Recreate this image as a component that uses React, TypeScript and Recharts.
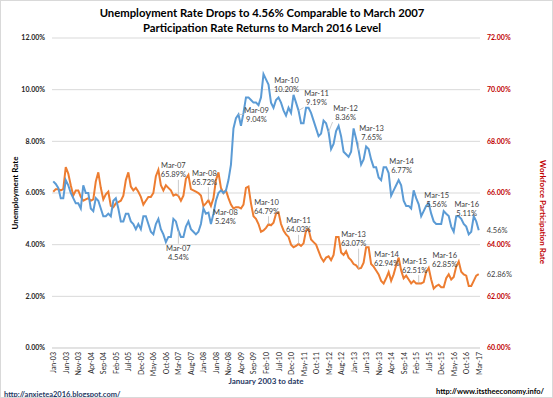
import React from "react";
import { LineChart, Line, XAxis, YAxis, CartesianGrid } from "recharts";

const MONTHS = ["Jan", "Feb", "Mar", "Apr", "May", "Jun", "Jul", "Aug", "Sep", "Oct", "Nov", "Dec"];
const YEARS = ["03", "04", "05", "06", "07", "08", "09", "10", "11", "12", "13", "14", "15", "16", "17"];
const months = YEARS.flatMap((y) => MONTHS.map((m) => `${m}-${y}`)).slice(0, 171);

// unemployment rate, not seasonally adjusted (%)
const unemployment = [
  6.45, 6.35, 6.2, 5.8, 5.8, 6.5, 6.3, 6.0, 5.8, 5.6, 5.6, 5.4,
  6.3, 6.0, 6.0, 5.4, 5.3, 5.8, 5.7, 5.4, 5.1, 5.1, 5.2, 5.1,
  5.7, 5.8, 5.4, 4.9, 4.9, 5.2, 5.2, 4.9, 4.8, 4.6, 4.8, 4.6,
  5.1, 5.1, 4.8, 4.5, 4.4, 4.8, 5.0, 4.6, 4.4, 4.1, 4.3, 4.3,
  5.0, 4.9, 4.54, 4.3, 4.3, 4.7, 4.9, 4.6, 4.5, 4.4, 4.5, 4.8,
  5.4, 5.2, 5.24, 4.8, 5.2, 5.7, 6.0, 6.1, 6.0, 6.1, 6.5, 7.1,
  8.5, 8.9, 9.04, 8.6, 9.1, 9.7, 9.7, 9.6, 9.5, 9.5, 9.4, 9.7,
  10.6, 10.4, 10.2, 9.5, 9.3, 9.6, 9.7, 9.5, 9.2, 9.0, 9.3, 9.1,
  9.8, 9.5, 9.19, 8.7, 8.7, 9.3, 9.3, 9.1, 8.8, 8.5, 8.2, 8.3,
  8.8, 8.7, 8.36, 7.7, 7.9, 8.4, 8.6, 8.2, 7.6, 7.5, 7.4, 7.6,
  8.5, 8.1, 7.65, 7.1, 7.3, 7.8, 7.7, 7.3, 7.0, 7.0, 6.6, 6.5,
  7.0, 7.0, 6.77, 5.9, 6.1, 6.3, 6.5, 6.3, 5.7, 5.5, 5.5, 5.4,
  6.1, 5.8, 5.56, 5.1, 5.3, 5.5, 5.6, 5.2, 4.9, 4.8, 4.8, 4.8,
  5.3, 5.2, 5.11, 4.7, 4.5, 5.1, 5.1, 5.0, 4.8, 4.7, 4.4, 4.5,
  5.1, 4.9, 4.56,
];

// labour force participation rate (%)
const participation = [
  66.05, 66.15, 66.15, 66.1, 66.15, 67.0, 66.75, 66.3, 65.9, 66.1, 66.1, 65.85,
  65.7, 65.75, 65.8, 65.7, 65.75, 66.45, 66.8, 66.2, 65.75, 65.95, 66.05, 65.5,
  65.45, 65.6, 65.65, 65.7, 65.9, 66.5, 66.8, 66.25, 66.1, 66.2, 66.05, 65.85,
  65.55, 65.7, 65.85, 65.85, 66.0, 66.65, 66.9, 66.3, 66.1, 66.3, 66.2, 66.1,
  65.9, 65.95, 65.89, 65.7, 65.9, 66.55, 66.7, 66.15, 66.1, 66.05, 66.0, 65.9,
  65.5, 65.6, 65.72, 65.5, 65.8, 66.5, 66.8, 66.2, 66.0, 66.1, 65.8, 65.55,
  65.4, 65.45, 65.45, 65.4, 65.55, 66.2, 66.25, 65.6, 65.1, 65.0, 64.8, 64.5,
  64.55, 64.65, 64.79, 64.75, 64.85, 65.2, 65.25, 64.8, 64.55, 64.4, 64.3, 64.0,
  63.9, 63.95, 64.03, 63.95, 64.05, 64.55, 64.6, 64.2, 64.1, 64.0, 63.75, 63.5,
  63.35, 63.5, 63.55, 63.4, 63.6, 64.3, 64.3, 63.7, 63.6, 63.75, 63.5, 63.4,
  63.25, 63.2, 63.07, 63.1, 63.3, 63.9, 63.9, 63.25, 63.15, 63.0, 62.85, 62.6,
  62.5, 62.7, 62.94, 62.6, 62.85, 63.2, 63.5, 63.0, 62.7, 62.8, 62.65, 62.5,
  62.6, 62.5, 62.51, 62.5, 62.55, 62.95, 63.1, 62.65, 62.3, 62.4, 62.45, 62.35,
  62.35, 62.7, 62.85, 62.65, 62.75, 63.15, 63.35, 62.95, 62.85, 62.8, 62.4, 62.4,
  62.6, 62.8, 62.86,
];

const leftTicks = [0, 2, 4, 6, 8, 10, 12];
const rightTicks = [60, 62, 64, 66, 68, 70, 72];

// where each callout sits relative to its point: [dx, dy]
const unemploymentCallouts: Record<string, [number, number]> = {
  "Mar-07": [0, 18],
  "Mar-08": [17, 0],
  "Mar-09": [18, -4],
  "Mar-10": [18, -4],
  "Mar-11": [18, -17],
  "Mar-12": [17, -24],
  "Mar-13": [13, -22],
  "Mar-14": [13, -12],
  "Mar-15": [18, -9],
  "Mar-16": [18, -11],
};
const participationCallouts: Record<string, [number, number]> = {
  "Mar-07": [-5, -30],
  "Mar-08": [-4, -27],
  "Mar-10": [-2, -22],
  "Mar-11": [0, -23],
  "Mar-13": [-5, -34],
  "Mar-14": [-2, -18],
  "Mar-15": [-4, -22],
  "Mar-16": [-4, -19],
};

const data = months.map((month, i) => ({
  month,
  unemployment: unemployment[i],
  participation: participation[i],
}));

const pct = (v: number) => `${v.toFixed(2)}%`;

function makeDot(callouts: Record<string, [number, number]>) {
  return (p: any) => {
    const { cx, cy, index, payload, value } = p;
    if (index === data.length - 1) {
      return (
        <text key={`d${index}`} x={cx + 8} y={cy} dominantBaseline="central" fontSize={7.5} fill="#404040">
          {pct(value)}
        </text>
      );
    }
    const c = callouts[payload.month];
    if (!c) return <g key={`d${index}`} />;
    const lx = cx + c[0];
    const ly = cy + c[1];
    const left = lx - 13, right = lx + 13, top = ly - 5, bottom = ly + 14;
    const nx = Math.min(Math.max(cx, left), right);
    const ny = Math.min(Math.max(cy, top), bottom);
    const far = Math.hypot(nx - cx, ny - cy) > 5;
    return (
      <g key={`d${index}`}>
        {far && <line x1={cx} y1={cy} x2={nx} y2={ny} stroke="#bfbfbf" strokeWidth={0.8} />}
        <text x={lx} y={ly + 2.5} textAnchor="middle" fontSize={7.5} fill="#404040">
          {payload.month}
        </text>
        <text x={lx} y={ly + 11.5} textAnchor="middle" fontSize={7.5} fill="#404040">
          {pct(value)}
        </text>
      </g>
    );
  };
}

const MonthTick = ({ x, y, payload }: any) => (
  <text
    x={x}
    y={y}
    transform={`rotate(-90, ${x}, ${y})`}
    textAnchor="end"
    dominantBaseline="central"
    fontSize={7}
    fill="#262626"
  >
    {payload.value}
  </text>
);

export default function App() {
  return (
    <div
      style={{
        position: "absolute",
        left: 0,
        top: 0,
        width: 553,
        height: 398,
        background: "#fff",
        fontFamily: "Lato, 'Open Sans', sans-serif",
      }}
    >
      <div style={{ position: "absolute", left: 0, right: 0, top: 5, textAlign: "center", fontSize: 11.3, fontWeight: "bold", lineHeight: "15px", color: "#000", paddingRight: 29, boxSizing: "border-box" }}>
        <div>Unemployment Rate Drops to 4.56% Comparable to March 2007</div>
        <div>Participation Rate Returns to March 2016 Level</div>
      </div>
      <LineChart width={553} height={398} data={data} margin={{ top: 38, right: 0, bottom: 20, left: 0 }}>
        <CartesianGrid yAxisId="left" vertical={false} stroke="#d9d9d9" />
        <XAxis
          dataKey="month"
          interval={4}
          tick={<MonthTick />}
          tickLine={false}
          tickSize={0}
          tickMargin={4}
          axisLine={{ stroke: "#d9d9d9" }}
          height={30}
          padding={{ left: 1.25, right: 1.25 }}
          label={{ value: "January 2003 to date", position: "bottom", offset: 0, fontSize: 8, fontWeight: "bold", fill: "#1f3864" }}
        />
        <YAxis
          yAxisId="left"
          domain={[0, 12]}
          ticks={leftTicks}
          width={52}
          axisLine={false}
          tickLine={false}
          tickSize={0}
          tickMargin={7}
          tick={{ fontSize: 7, fill: "#262626", fontWeight: "bold" }}
          tickFormatter={pct}
          label={{
            content: ({ viewBox }: any) => {
              const x = viewBox.x + 15;
              const y = viewBox.y + viewBox.height / 2;
              return (
                <text x={x} y={y} transform={`rotate(-90, ${x}, ${y})`} textAnchor="middle" dominantBaseline="central" fontSize={8} fontWeight="bold" fill="#000">
                  Unemployment Rate
                </text>
              );
            },
          }}
        />
        <YAxis
          yAxisId="right"
          orientation="right"
          domain={[60, 72]}
          ticks={rightTicks}
          width={73}
          axisLine={false}
          tickLine={false}
          tickSize={0}
          tickMargin={7}
          tick={{ fontSize: 7, fill: "#c00000", fontWeight: "bold" }}
          tickFormatter={pct}
          label={{
            content: ({ viewBox }: any) => {
              const x = viewBox.x + 63;
              const y = viewBox.y + viewBox.height / 2 + 19;
              return (
                <text x={x} y={y} transform={`rotate(90, ${x}, ${y})`} textAnchor="middle" dominantBaseline="central" fontSize={8} fontWeight="bold" fill="#c00000">
                  Workforce Participation Rate
                </text>
              );
            },
          }}
        />
        <Line
          yAxisId="right"
          type="linear"
          dataKey="participation"
          stroke="#ed7d31"
          strokeWidth={2}
          dot={makeDot(participationCallouts)}
          activeDot={false}
          isAnimationActive={false}
        />
        <Line
          yAxisId="left"
          type="linear"
          dataKey="unemployment"
          stroke="#5b9bd5"
          strokeWidth={2}
          dot={makeDot(unemploymentCallouts)}
          activeDot={false}
          isAnimationActive={false}
        />
      </LineChart>
      <div style={{ position: "absolute", left: 4, top: 390, fontSize: 7.5, fontWeight: "bold", color: "#1f3864" }}>
        http://anxietea2016.blogspot.com/
      </div>
      <div style={{ position: "absolute", left: 436, top: 387, fontSize: 7.5, fontWeight: "bold", color: "#000" }}>
        http://www.itstheeconomy.info/
      </div>
      <div style={{ position: "absolute", inset: 0, border: "1px solid #d9d9d9", pointerEvents: "none" }} />
    </div>
  );
}
